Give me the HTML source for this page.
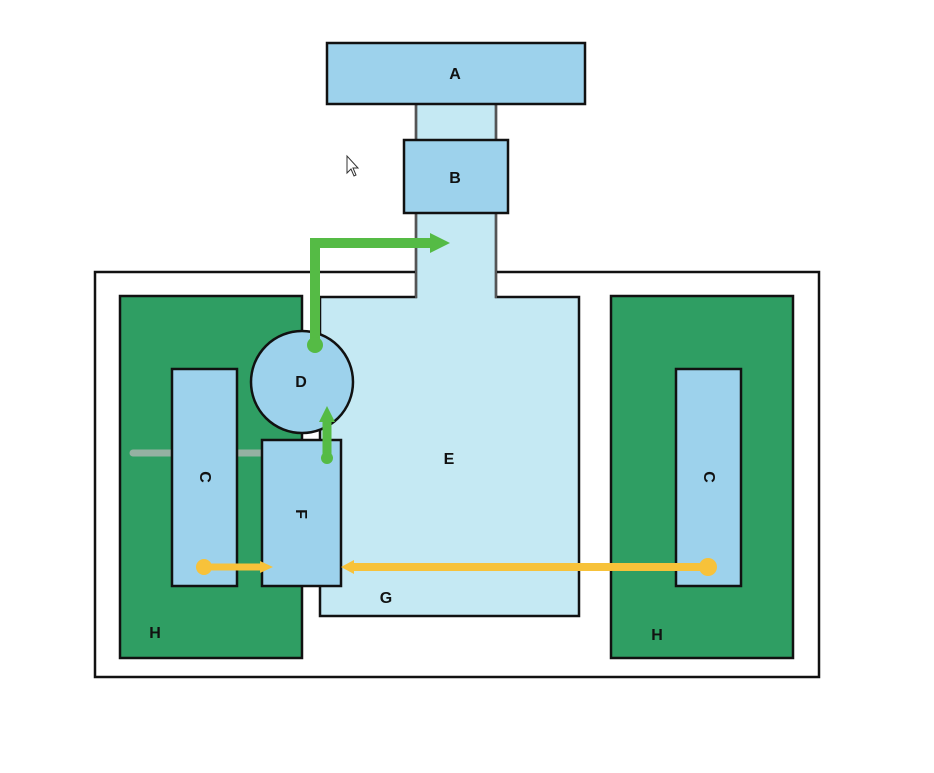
<!DOCTYPE html>
<html><head><style>html,body{margin:0;padding:0;background:#fff;width:934px;height:773px;overflow:hidden}</style></head>
<body>
<svg width="934" height="773" viewBox="0 0 934 773" xmlns="http://www.w3.org/2000/svg" font-family="Liberation Sans, sans-serif" font-weight="bold" font-size="16">
<rect x="0" y="0" width="934" height="773" fill="#fff"/>
<rect x="95" y="272" width="724" height="405" fill="#fff" stroke="#111" stroke-width="2.5"/>
<rect x="120" y="296" width="182" height="362" fill="#2f9e63" stroke="#111" stroke-width="2.5"/>
<rect x="611" y="296" width="182" height="362" fill="#2f9e63" stroke="#111" stroke-width="2.5"/>
<path d="M320,297 L416,297 L416,104 L496,104 L496,297 L579,297 L579,616 L320,616 Z" fill="#c5e9f3" stroke="#111" stroke-width="2.5"/>
<rect x="417.5" y="104" width="77" height="196" fill="#c5e9f3"/>
<line x1="416" y1="104" x2="416" y2="298" stroke="#555" stroke-width="2"/>
<line x1="496" y1="104" x2="496" y2="298" stroke="#555" stroke-width="2"/>
<rect x="327" y="43" width="258" height="61" fill="#9dd2ec" stroke="#111" stroke-width="2.5"/>
<rect x="404" y="140" width="104" height="73" fill="#9dd2ec" stroke="#111" stroke-width="2.5"/>
<line x1="133" y1="453" x2="280" y2="453" stroke="#b8b8b8" stroke-width="7" stroke-linecap="round" opacity="0.75"/>
<rect x="172" y="369" width="65" height="217" fill="#9dd2ec" stroke="#111" stroke-width="2.5"/>
<rect x="676" y="369" width="65" height="217" fill="#9dd2ec" stroke="#111" stroke-width="2.5"/>
<circle cx="302" cy="382" r="51" fill="#9dd2ec" stroke="#111" stroke-width="2.5"/>
<rect x="262" y="440" width="79" height="146" fill="#9dd2ec" stroke="#111" stroke-width="2.5"/>
<polyline points="315,345 315,243 432,243" fill="none" stroke="#55bb45" stroke-width="10"/>
<polygon points="430,233 450,243 430,253" fill="#55bb45"/>
<circle cx="315" cy="345" r="8" fill="#55bb45"/>
<line x1="327" y1="458" x2="327" y2="420" stroke="#55bb45" stroke-width="9"/>
<polygon points="319,422 327,406 335,422" fill="#55bb45"/>
<circle cx="327" cy="458" r="6" fill="#55bb45"/>
<line x1="204" y1="567" x2="262" y2="567" stroke="#f7c23a" stroke-width="7"/>
<polygon points="260,561 273,567 260,573" fill="#f7c23a"/>
<circle cx="204" cy="567" r="8" fill="#f7c23a"/>
<line x1="352" y1="567" x2="708" y2="567" stroke="#f7c23a" stroke-width="8"/>
<polygon points="354,560 341,567 354,574" fill="#f7c23a"/>
<circle cx="708" cy="567" r="9" fill="#f7c23a"/>
<g fill="#111" text-anchor="middle">
<text x="455" y="79">A</text>
<text x="455" y="183">B</text>
<text x="301" y="387">D</text>
<text x="449" y="464">E</text>
<text x="386" y="603">G</text>
<text x="155" y="638">H</text>
<text x="657" y="640">H</text>
<text transform="translate(205,477) rotate(90)" y="5">C</text>
<text transform="translate(709,477) rotate(90)" y="5">C</text>
<text transform="translate(301,514) rotate(90)" y="5">F</text>
</g>
<path d="M347,156 L347,173 L351,169 L354,176 L356,175 L353,168 L358,168 Z" fill="#fff" stroke="#333" stroke-width="1"/>
</svg>
</body></html>
